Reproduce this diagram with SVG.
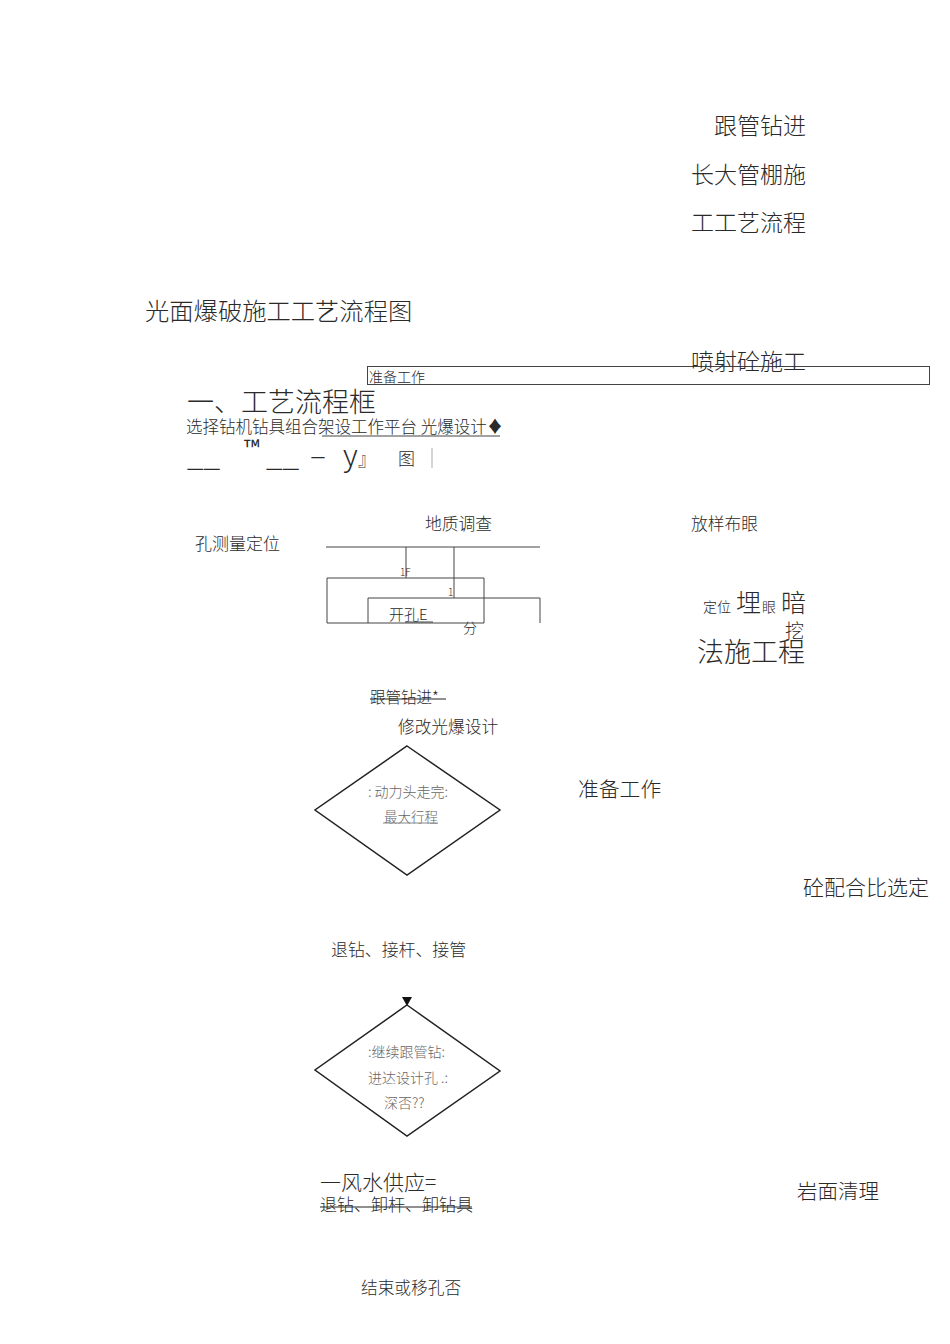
<svg xmlns="http://www.w3.org/2000/svg" width="950" height="1344" viewBox="0 0 950 1344">
<style>
text{font-family:"Noto Sans CJK SC","Liberation Sans",sans-serif;fill:#2a2a2a;font-weight:300;}
.l{stroke:#444;stroke-width:1;fill:none;}
.d{stroke:#222;stroke-width:1.5;fill:none;}
.g{fill:#666;}
</style>
<rect width="950" height="1344" fill="#fff"/>
<g id="titles">
<text x="806" y="134" font-size="23" text-anchor="end">跟管钻进</text>
<text x="806" y="183" font-size="23" text-anchor="end">长大管棚施</text>
<text x="806" y="231" font-size="23" text-anchor="end">工工艺流程</text>
<text x="145" y="320" font-size="24.3">光面爆破施工工艺流程图</text>
</g>
<g id="prep-box">
<rect x="367.5" y="366.5" width="562" height="18" class="l" stroke="#555"/>
<text x="806" y="370" font-size="23" text-anchor="end">喷射砼施工</text>
<text x="369" y="382" font-size="14">准备工作</text>
</g>
<g id="heading">
<text x="187" y="412" font-size="27">一、工艺流程框</text>
<text x="186" y="433" font-size="16.5">选择钻机钻具组合架设工作平台 光爆设计♦</text>
<line x1="322" y1="436" x2="500" y2="436" class="l"/>
<text x="187" y="466" font-size="30" font-family="Liberation Sans">__</text>
<text x="244" y="456" font-size="22" font-family="Liberation Sans" style="font-weight:400">™</text>
<text x="266" y="466" font-size="30" font-family="Liberation Sans">__</text>
<text x="310" y="466" font-size="30" font-family="Liberation Sans">–</text>
<text x="343" y="466" font-size="30" font-family="Liberation Sans">y</text>
<text x="358" y="466" font-size="18">』</text>
<text x="398" y="465" font-size="17">图</text>
<line x1="432" y1="448" x2="432" y2="468" stroke="#aaa" stroke-width="1"/>
</g>
<g id="survey">
<text x="425" y="530" font-size="16.8">地质调查</text>
<text x="691" y="530" font-size="16.8">放样布眼</text>
<text x="195" y="550" font-size="17">孔测量定位</text>
</g>
<g id="connectors">
<line x1="326" y1="547" x2="540" y2="547" class="l"/>
<line x1="406" y1="547" x2="406" y2="578" class="l"/>
<line x1="454" y1="547" x2="454" y2="598" class="l"/>
<polyline points="327,623 327,578 484,578 484,623" class="l"/>
<line x1="327" y1="623" x2="484" y2="623" class="l"/>
<polyline points="368,623 368,598 540,598 540,623" class="l"/>
<path d="M402,997 L412,997 L407,1006 Z" fill="#111"/>
</g>
<g id="drill-box">
<text x="400" y="576" font-size="10" font-family="Liberation Sans">1F</text>
<text x="448" y="596" font-size="10" font-family="Liberation Sans">1</text>
<text x="389" y="620" font-size="15">开孔E</text>
<line x1="405" y1="622" x2="433" y2="622" class="l"/>
<text x="463" y="633" font-size="14">分</text>
</g>
<g id="excavation">
<text x="703" y="612" font-size="14">定位</text>
<text x="736" y="612" font-size="25">埋</text>
<text x="762" y="612" font-size="14">眼</text>
<text x="781" y="612" font-size="25">暗</text>
<text x="785" y="638" font-size="19">挖</text>
<text x="697" y="662" font-size="27">法施工程</text>
</g>
<g id="drill-step">
<text x="370" y="703" font-size="15.5">跟管钻进*</text>
<line x1="370" y1="699" x2="446" y2="699" stroke="#222" stroke-width="1.2"/>
<text x="398" y="733" font-size="16.7">修改光爆设计</text>
</g>
<g id="decision1">
<polygon points="407,746 500,810 407,875 315,810" class="d"/>
<text x="368" y="797" font-size="14" class="g">: 动力头走完:</text>
<text x="384" y="822" font-size="13.5" class="g">最大行程</text>
<line x1="383" y1="823" x2="438" y2="823" stroke="#888" stroke-width="1"/>
</g>
<g id="side-labels">
<text x="578" y="797" font-size="20.8">准备工作</text>
<text x="803" y="895" font-size="21">砼配合比选定</text>
<text x="797" y="1199" font-size="20.5">岩面清理</text>
</g>
<g id="retract">
<text x="331" y="956" font-size="16.9">退钻、接杆、接管</text>
</g>
<g id="decision2">
<polygon points="407,1005 500,1071 407,1136 315,1070" class="d"/>
<text x="368" y="1057" font-size="14" class="g">:继续跟管钻:</text>
<text x="368" y="1083" font-size="14" class="g">进达设计孔 .:</text>
<text x="384" y="1108" font-size="14" class="g">深否??</text>
</g>
<g id="end">
<text x="320" y="1190" font-size="21">一风水供应=</text>
<text x="320" y="1211" font-size="17">退钻、卸杆、卸钻具</text>
<line x1="320" y1="1207" x2="472" y2="1207" stroke="#222" stroke-width="1.2"/>
<text x="361" y="1294" font-size="16.7">结束或移孔否</text>
</g>
</svg>
